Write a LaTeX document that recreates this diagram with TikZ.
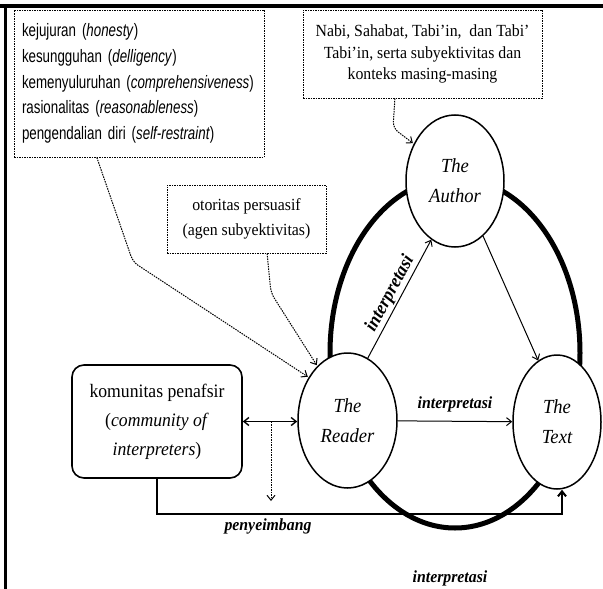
\documentclass[tikz,border=0pt]{standalone}
\usepackage{fontspec}
\setmainfont{Liberation Serif}[FakeStretch=0.93]
\newfontfamily\sfn{Liberation Sans}[FakeStretch=0.74]
\usetikzlibrary{arrows.meta,shapes.geometric,calc}
\tikzset{
  ell/.style={ellipse, draw, line width=1.5pt, fill=white, inner sep=0pt, align=center, font=\itshape\fontsize{20}{30}\selectfont},
  dbox/.style={draw, line width=1pt, dash pattern=on 1.5pt off 1pt, inner sep=0pt},
  tip/.style={-{Straight Barb[length=5pt,width=8pt]}},
  dotarr/.style={line width=1pt, dash pattern=on 1.5pt off 1pt, tip, rounded corners=6pt, shorten >=1pt},
  arr/.style={line width=1pt, tip},
  lab/.style={font=\bfseries\itshape\fontsize{17}{20}\selectfont, inner sep=1pt},
}
\begin{document}
\begin{tikzpicture}[x=1pt,y=-1pt]
\useasboundingbox (0,0) rectangle (603,589);
\fill[white] (0,0) rectangle (603,589);
% frame
\draw[line width=3.5pt] (0,6) -- (603,6);
\draw[line width=3pt] (5.5,6) -- (5.5,589);
% ring
\draw[line width=5pt] (455,353) ellipse [x radius=125pt, y radius=175pt];
% ellipses
\node[ell, minimum width=98pt, minimum height=132pt] (author) at (455,181) {The\\Author};
\node[ell, minimum width=99pt, minimum height=135pt] (reader) at (347.5,420.5) {The\\Reader};
\node[ell, minimum width=88pt, minimum height=134pt] (text) at (557,422) {The\\Text};
% community box
\node[draw, line width=1.6pt, rounded corners=12pt, minimum width=170pt, minimum height=113pt, align=center, font=\fontsize{19}{29}\selectfont] (comm) at (157,421.5) {komunitas penafsir\\(\textit{community of}\\\textit{interpreters})};
% dotted boxes
\node[dbox, minimum width=250pt, minimum height=147pt, text width=234pt, inner xsep=8pt, align=left, font=\sfn\fontsize{18}{25.75}\selectfont] (lbox) at (139,83.5) {kejujuran (\textit{honesty})\\kesungguhan (\textit{delligency})\\kemenyuluruhan (\textit{comprehensiveness})\\rasionalitas (\textit{reasonableness})\\pengendalian diri (\textit{self-restraint})};
\node[dbox, minimum width=239pt, minimum height=88pt, align=center, font=\fontsize{17}{21.5}\selectfont] (nbox) at (422.5,54) {Nabi, Sahabat, Tabi’in,\ \ dan Tabi’\\Tabi’in, serta subyektivitas dan\\konteks masing-masing};
\node[dbox, minimum width=159pt, minimum height=68pt, align=center, font=\fontsize{17}{25}\selectfont] (obox) at (246.5,219) {otoritas persuasif\\(agen subyektivitas)};
% solid arrows
\draw[arr] (reader.72.7) -- node[lab, sloped, above=0.5pt, font=\bfseries\itshape\fontsize{19}{22}\selectfont]{interpretasi} (author.248.7);
\draw[arr] (author.297) -- (text.107);
\draw[arr] (reader) -- node[lab, above=8pt]{interpretasi} (text);
% double arrow
\draw[line width=1.4pt, {Straight Barb[length=5pt,width=8pt]}-{Straight Barb[length=5pt,width=8pt]}] (comm.east) -- (comm.east -| reader.west);
% dotted down arrow
\coordinate (ds) at (271,421.5);
\coordinate (de) at (271,502);
\draw[dotarr] (ds) -- (de);
% bottom connector
\coordinate (bc) at (562,514);
\draw[line width=2pt, tip] (comm.south) |- (bc) -- (bc |- text.south);
% labels
\node[lab] (pen) at (268,526) {penyeimbang};
\node[lab] (int3) at (450,578) {interpretasi};
% dotted connectors
\coordinate (l0) at ($(lbox.south west)!0.332!(lbox.south east)$);
\coordinate (lb) at (133,262);
\draw[dotarr] (l0) -- (lb) -- (reader.132);
\coordinate (o0) at ($(obox.south west)!0.629!(obox.south east)$);
\coordinate (ob) at (271,293);
\draw[dotarr] (o0) -- (ob) -- (reader.119);
\coordinate (n0) at ($(nbox.south west)!0.385!(nbox.south east)$);
\coordinate (nb) at (393,128);
\draw[dotarr] (n0) -- (nb) -- (author.138.5);
\end{tikzpicture}
\end{document}
